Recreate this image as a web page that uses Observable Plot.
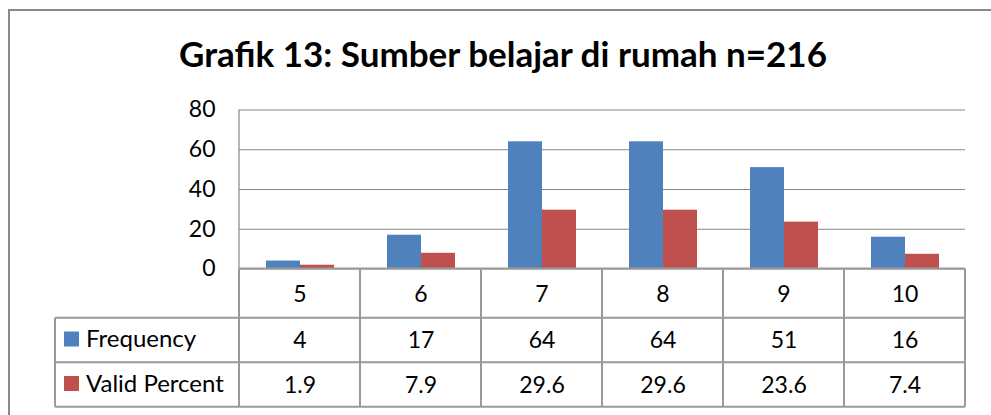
<!DOCTYPE html>
<html>
<head>
<meta charset="utf-8">
<script src="https://cdn.jsdelivr.net/npm/d3@7"></script>
<script src="https://cdn.jsdelivr.net/npm/@observablehq/plot@0.6"></script>
<style>
  html, body { margin: 0; padding: 0; background: #fff; overflow: hidden; }
  #wrap { position: relative; width: 991px; height: 415px; overflow: hidden; font-family: Lato, "Open Sans", sans-serif; }
  #border { position: absolute; left: 8px; top: 9px; width: 1100px; height: 500px; border: 2px solid #8a8a8a; box-sizing: border-box; }
  #title { position: absolute; left: 0; top: 32px; width: 1006px; text-align: center; font-weight: bold; font-size: 35px; color: #000; white-space: nowrap; }
  #chart { position: absolute; left: 0; top: 0; }
</style>
</head>
<body>
<div id="wrap">
  <div id="border"></div>
  <div id="chart"></div>
  <div id="title">Grafik 13: Sumber belajar di rumah n=216</div>
</div>
<script>
const categories = ["5", "6", "7", "8", "9", "10"];
const seriesNames = ["Frequency", "Valid Percent"];
const frequency = [4, 17, 64, 64, 51, 16];
const validPercent = ["1.9", "7.9", "29.6", "29.6", "23.6", "7.4"];
const yTicks = [0, 20, 40, 60, 80];
const colors = ["#4F81BD", "#C0504D"];

const rows = categories.flatMap((c, i) => [
  {cat: c, series: seriesNames[0], value: frequency[i]},
  {cat: c, series: seriesNames[1], value: +validPercent[i]}
]);
const table = categories.map((c, i) => ({cat: c, freq: String(frequency[i]), pct: validPercent[i]}));

const FONT = "Lato, 'Open Sans', sans-serif";
const FS = 23;
const plot = Plot.plot({
  width: 991,
  height: 415,
  marginLeft: 236,
  marginRight: 24,
  marginTop: 109.5,
  marginBottom: 146.5,
  style: {fontFamily: FONT, fontSize: FS + "px", background: "transparent", overflow: "visible"},
  fx: {domain: categories, paddingInner: 0, paddingOuter: 0, axis: null, label: null},
  x: {domain: seriesNames, paddingInner: 0, paddingOuter: 0.7405, align: 0.5, axis: null},
  y: {domain: [0, 80], axis: null},
  color: {domain: seriesNames, range: colors},
  marks: [
    Plot.gridY(yTicks, {stroke: "#878787", strokeOpacity: 1, strokeWidth: 1.2}),
    Plot.axisY(yTicks, {tickSize: 0, tickPadding: 24, fontSize: FS, label: null, fill: "#000"}),
    Plot.barY(rows, {fx: "cat", x: "series", y: "value", fill: "series"}),
    Plot.text(table, {fx: "cat", text: "cat", frameAnchor: "bottom", lineAnchor: "middle", dy: 25.5, fontSize: FS, fill: "#000"}),
    Plot.text(table, {fx: "cat", text: "freq", frameAnchor: "bottom", lineAnchor: "middle", dy: 72, fontSize: FS, fill: "#000"}),
    Plot.text(table, {fx: "cat", text: "pct", frameAnchor: "bottom", lineAnchor: "middle", dy: 116.5, fontSize: FS, fill: "#000"})
  ]
});
document.getElementById("chart").appendChild(plot);

// Data-table grid, legend and axis line drawn with the plot's own scales
const fx = plot.scale("fx");
const ys = plot.scale("y");
const bw = fx.bandwidth;
const left = fx.apply(categories[0]);
const right = fx.apply(categories[categories.length - 1]) + bw;
const y0 = ys.apply(0);
const yTop = ys.apply(80);
const rowEdges = [y0, y0 + 49.2, y0 + 93.8, y0 + 138.2];
const legendLeft = 55;
const svg = d3.select(plot);
const g = svg.append("g").attr("stroke", "#9a9a9a").attr("stroke-width", 2).attr("fill", "none");
// y-axis line
g.append("line").attr("x1", left).attr("x2", left).attr("y1", yTop).attr("y2", y0).attr("stroke", "#878787").attr("stroke-width", 1.2);
// horizontal table lines
g.append("line").attr("x1", left).attr("x2", right).attr("y1", rowEdges[0]).attr("y2", rowEdges[0]);
for (let k = 1; k < rowEdges.length; k++) {
  g.append("line").attr("x1", legendLeft).attr("x2", right).attr("y1", rowEdges[k]).attr("y2", rowEdges[k]);
}
// vertical table lines
categories.forEach(c => {
  const x = fx.apply(c);
  g.append("line").attr("x1", x).attr("x2", x).attr("y1", rowEdges[0]).attr("y2", rowEdges[3]);
});
g.append("line").attr("x1", right).attr("x2", right).attr("y1", rowEdges[0]).attr("y2", rowEdges[3]);
g.append("line").attr("x1", legendLeft).attr("x2", legendLeft).attr("y1", rowEdges[1]).attr("y2", rowEdges[3]);
// legend
const lg = svg.append("g").attr("font-family", FONT).attr("font-size", 24).attr("text-anchor", "start");
seriesNames.forEach((s, i) => {
  const cy = (rowEdges[i + 1] + rowEdges[i + 2]) / 2;
  lg.append("rect").attr("x", 64).attr("y", cy - 8.5).attr("width", 15).attr("height", 15).attr("fill", colors[i]);
  lg.append("text").attr("x", 86).attr("y", cy - 1).attr("dy", "0.35em").attr("fill", "#000").text(s);
});
</script>
</body>
</html>
